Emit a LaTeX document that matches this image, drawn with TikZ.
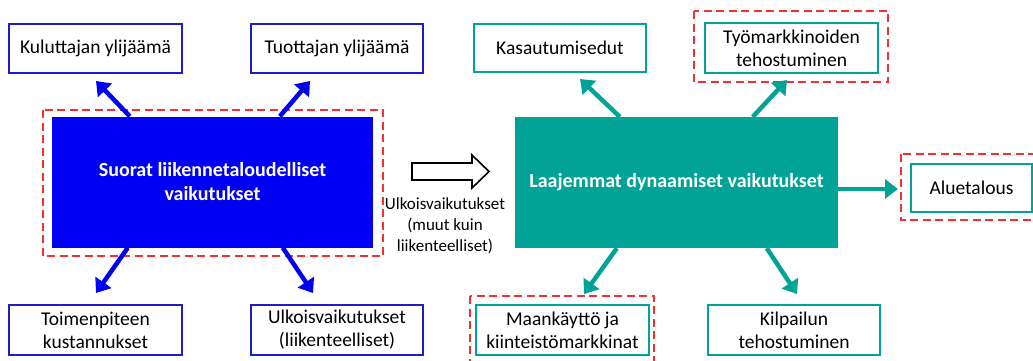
\documentclass[tikz,border=0pt]{standalone}
\usepackage{fontspec}
\setmainfont{Carlito}
\usetikzlibrary{calc,arrows.meta}
\definecolor{bblue}{RGB}{0,0,245}
\definecolor{bborder}{RGB}{30,30,200}
\definecolor{teal1}{RGB}{0,163,150}
\definecolor{rdash}{RGB}{240,50,50}
\begin{document}
\begin{tikzpicture}[x=1pt,y=-1pt,
  boxfont/.style={font=\fontsize{19.5}{23}\selectfont},
  lbox/.style={draw=bborder,line width=2.5pt,fill=white,inner sep=0pt,align=center,boxfont,text=black},
  tbox/.style={draw=teal1,line width=2.5pt,fill=white,inner sep=0pt,align=center,boxfont,text=black},
  reddash/.style={draw=rdash,line width=1.6pt,dash pattern=on 8pt off 4.5pt},
  barrow/.style={draw=bblue,line width=4.5pt,-{Triangle[length=13pt,width=19pt]}},
  tarrow/.style={draw=teal1,line width=4.5pt,-{Triangle[length=13pt,width=19pt]}},
  bigbox/.style={minimum height=131pt,inner sep=0pt,text=white,align=center,font=\fontsize{20}{24}\selectfont\bfseries},
]
\useasboundingbox (0,0) rectangle (1033,360);
% red dashed frames
\draw[reddash] (43,110) rectangle (383,256);
\draw[reddash] (694,11) rectangle (888,82);
\draw[reddash] (470,296) rectangle (654,363);
\draw[reddash] (901,154) rectangle (1040,220);
% main rectangles
\node[bigbox,fill=bblue,minimum width=321pt] (blue) at (212.5,182) {Suorat liikennetaloudelliset\\vaikutukset};
\node[bigbox,fill=teal1,minimum width=323pt] (teal) at (676.5,182.5) {Laajemmat dynaamiset vaikutukset};
% left boxes
\node[lbox,minimum width=173pt,minimum height=49pt] (kul) at (95.5,48.5) {Kuluttajan ylijäämä};
\node[lbox,minimum width=172pt,minimum height=49pt] (tuo) at (337,48.5) {Tuottajan ylijäämä};
\node[lbox,minimum width=173pt,minimum height=50pt] (toi) at (95.5,330) {Toimenpiteen\\kustannukset};
\node[lbox,minimum width=172pt,minimum height=50pt] (ulk) at (337,330) {Ulkoisvaikutukset\\(liikenteelliset)};
% right boxes
\node[tbox,minimum width=172pt,minimum height=48pt] (kas) at (560,48) {Kasautumisedut};
\node[tbox,minimum width=173pt,minimum height=50pt] (tyo) at (791.5,48) {Työmarkkinoiden\\tehostuminen};
\node[tbox,minimum width=173pt,minimum height=50pt] (maa) at (562.5,330) {Maankäyttö ja\\kiinteistömarkkinat};
\node[tbox,minimum width=172pt,minimum height=50pt] (kil) at (794,330) {Kilpailun\\tehostuminen};
\node[tbox,minimum width=121pt,minimum height=48pt] (alu) at (971.5,188) {Aluetalous};
% arrow tips
\coordinate (tkul) at (96,81);
\coordinate (ttuo) at (310,81);
\coordinate (ttoi) at (96,293);
\coordinate (tulk) at (313,293);
\coordinate (tkas) at (580,79);
\coordinate (ttyo) at (787,80);
\coordinate (tmaa) at (584,294);
\coordinate (tkil) at (797,294);
\coordinate (talu) at (898,189);
% blue arrows
\draw[barrow] ($(blue.north west)+(78,0)$) -- (tkul);
\draw[barrow] ($(blue.north west)+(228,0)$) -- (ttuo);
\draw[barrow] ($(blue.south west)+(76,0)$) -- (ttoi);
\draw[barrow] ($(blue.south west)+(231,0)$) -- (tulk);
% teal arrows
\draw[tarrow] ($(teal.north west)+(105,0)$) -- (tkas);
\draw[tarrow] ($(teal.north west)+(238,0)$) -- (ttyo);
\draw[tarrow] ($(teal.south west)+(102,0)$) -- (tmaa);
\draw[tarrow] ($(teal.south west)+(252,0)$) -- (tkil);
\draw[tarrow] (teal.east |- talu) -- (talu);
% hollow arrow
\draw[line width=1.6pt,fill=white] (412,163) -- (472,163) -- (472,155) -- (489,171.5) -- (472,188) -- (472,180) -- (412,180) -- cycle;
\node[align=center,font=\fontsize{17}{21}\selectfont,inner sep=0pt] (ulkl) at (445,226) {Ulkoisvaikutukset\\(muut kuin\\liikenteelliset)};
\end{tikzpicture}
\end{document}
